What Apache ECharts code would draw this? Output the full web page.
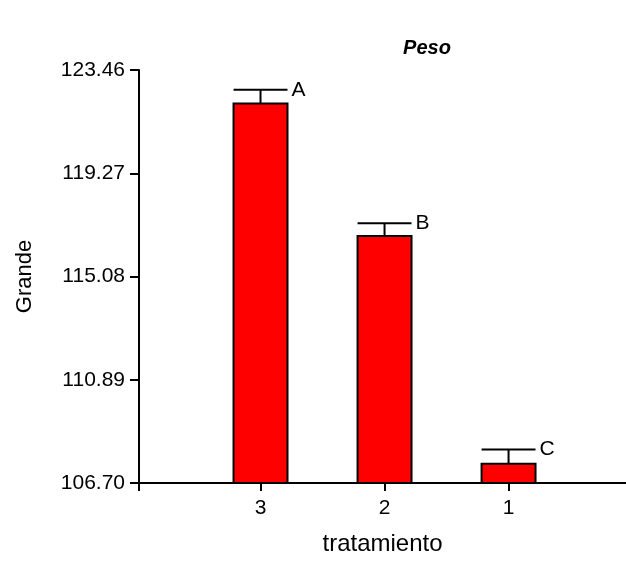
<!DOCTYPE html>
<html>
<head>
<meta charset="utf-8">
<script src="https://cdn.jsdelivr.net/npm/echarts@6/dist/echarts.min.js"></script>
<style>
html,body{margin:0;padding:0;background:#fff;}
#chart{width:626px;height:561px;}
</style>
</head>
<body>
<div id="chart"></div>
<script>
// ---- data ----
var categories = ['3', '2', '1'];
var means = [122.10, 116.72, 107.48];
var errTops = [122.66, 117.24, 108.06];
var letters = ['A', 'B', 'C'];
var yTicks = [106.70, 110.89, 115.08, 119.27, 123.46];

var catPos = categories.map(function (c, i) { return i + 1; });
var yMin = yTicks[0], yMax = yTicks[yTicks.length - 1];
var BAR_W = 0.435; // in x-axis units

var rows = categories.map(function (c, i) {
  return [catPos[i], means[i], errTops[i], i];
});

var font = 'Liberation Sans, Arial, sans-serif';
var chart = echarts.init(document.getElementById('chart'), null, {renderer: 'canvas'});
chart.setOption({
  animation: false,
  backgroundColor: '#fff',
  title: {
    text: 'Peso', left: 422, top: 33, textAlign: 'center',
    textStyle: {fontFamily: font, fontSize: 20, fontWeight: 'bold', fontStyle: 'italic', color: '#000'}
  },
  grid: {left: 139, right: 0, top: 70, bottom: 71, containLabel: false},
  xAxis: {
    type: 'value', min: 0.0202, max: 3.947,
    name: 'tratamiento', nameLocation: 'middle', nameGap: 49,
    nameTextStyle: {fontFamily: font, fontSize: 24, color: '#000'},
    axisLine: {show: true, onZero: false, lineStyle: {color: '#000', width: 2}},
    axisTick: {show: true, length: 8, lineStyle: {color: '#000', width: 2},
      customValues: [0.0202].concat(catPos)},
    axisLabel: {show: true, margin: 15, fontFamily: font, fontSize: 21, color: '#000',
      customValues: catPos,
      formatter: function (v) { return categories[Math.round(v) - 1] || ''; }},
    splitLine: {show: false}
  },
  yAxis: {
    type: 'value', min: yMin, max: yMax,
    name: 'Grande', nameLocation: 'middle', nameGap: 103, nameRotate: 90,
    nameTextStyle: {fontFamily: font, fontSize: 22, color: '#000'},
    axisLine: {show: true, lineStyle: {color: '#000', width: 2}},
    axisTick: {show: true, length: 9, lineStyle: {color: '#000', width: 2}, customValues: yTicks},
    axisLabel: {show: true, margin: 14, fontFamily: font, fontSize: 21, color: '#000',
      customValues: yTicks,
      formatter: function (v) { return v.toFixed(2); }},
    splitLine: {show: false}
  },
  series: [{
    type: 'custom',
    data: rows,
    encode: {x: 0, y: [1, 2]},
    clip: false,
    renderItem: function (params, api) {
      var x = api.value(0);
      var m = api.value(1);
      var e = api.value(2);
      var idx = api.value(3);
      var pTop = api.coord([x, m]);
      var pBase = api.coord([x, yMin]);
      var pErr = api.coord([x, e]);
      var w = api.size([BAR_W, 0])[0];
      return {
        type: 'group',
        children: [
          {type: 'rect', shape: {x: pTop[0] - w / 2, y: pTop[1], width: w, height: pBase[1] - pTop[1]},
            style: {fill: '#ff0000', stroke: '#000', lineWidth: 2}},
          {type: 'line', shape: {x1: pTop[0], y1: pTop[1], x2: pErr[0], y2: pErr[1]},
            style: {stroke: '#000', lineWidth: 2}},
          {type: 'line', shape: {x1: pErr[0] - w / 2, y1: pErr[1], x2: pErr[0] + w / 2, y2: pErr[1]},
            style: {stroke: '#000', lineWidth: 2}},
          {type: 'text', x: pErr[0] + w / 2 + 4, y: pErr[1],
            style: {text: letters[idx], fill: '#000', font: '21px ' + font,
              textAlign: 'left', textVerticalAlign: 'middle'}}
        ]
      };
    }
  }]
});
</script>
</body>
</html>
